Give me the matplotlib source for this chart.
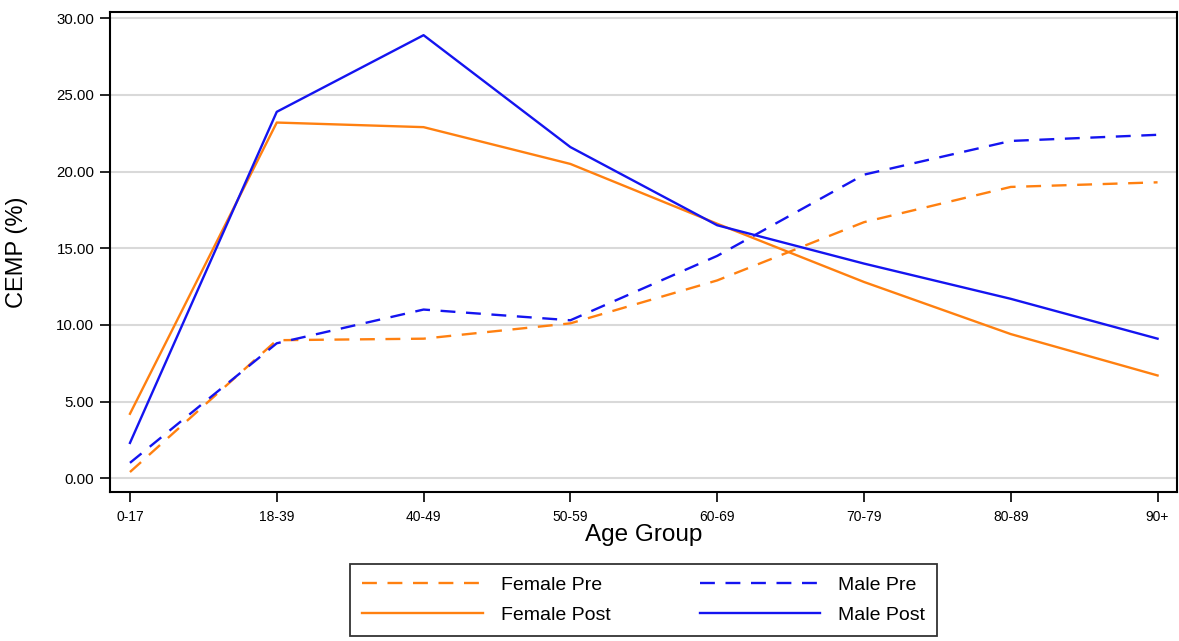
import matplotlib
matplotlib.use("Agg")
import matplotlib.pyplot as plt

plt.rcParams['font.family'] = ['Liberation Sans', 'DejaVu Sans']

age_groups = ["0-17", "18-39", "40-49", "50-59", "60-69", "70-79", "80-89", "90+"]
female_pre = [0.4, 9.0, 9.1, 10.1, 12.9, 16.7, 19.0, 19.3]
male_pre = [1.0, 8.8, 11.0, 10.3, 14.5, 19.8, 22.0, 22.4]
female_post = [4.2, 23.2, 22.9, 20.5, 16.6, 12.8, 9.4, 6.7]
male_post = [2.3, 23.9, 28.9, 21.6, 16.5, 14.0, 11.7, 9.1]
yticks = [0, 5, 10, 15, 20, 25, 30]

orange = "#FF8010"
blue = "#1414F0"

fig = plt.figure(figsize=(11.79, 6.41), dpi=100)
ax = fig.add_axes([0.0933, 0.2325, 0.9047, 0.7485])

x = list(range(len(age_groups)))
dash = (0, (6.3, 4.5))
lw = 1.7
l1, = ax.plot(x, female_pre, color=orange, lw=lw, linestyle=dash, label="Female Pre")
l2, = ax.plot(x, female_post, color=orange, lw=lw, label="Female Post")
l3, = ax.plot(x, male_pre, color=blue, lw=lw, linestyle=dash, label="Male Pre")
l4, = ax.plot(x, male_post, color=blue, lw=lw, label="Male Post")

ax.set_xlim(-0.136, 7.13)
ax.set_ylim(-0.9, 30.4)
ax.set_xticks(x)
ax.set_xticklabels(age_groups, fontsize=10)
ax.set_yticks(yticks)
ax.set_yticklabels([f"{v:.2f}" for v in yticks], fontsize=10.8)
ax.yaxis.grid(True, color="#d9d9d9", lw=1.5)
ax.set_axisbelow(True)
ax.tick_params(axis='both', direction='out', length=7, width=1.2, colors='black')
ax.tick_params(axis='y', pad=4.3)
ax.tick_params(axis='x', pad=6)
for s in ax.spines.values():
    s.set_linewidth(1.5)
    s.set_color('black')

ax.set_xlabel("Age Group", fontsize=17.5)
ax.xaxis.set_label_coords(0.5, -0.066)
ax.set_ylabel("CEMP (%)", fontsize=17)
ax.yaxis.set_label_coords(-0.077, 0.5)

leg = fig.legend([l1, l2, l3, l4], ["Female Pre", "Female Post", "Male Pre", "Male Post"],
                 loc='center', bbox_to_anchor=(0.546, 0.064), ncol=2, fontsize=14,
                 handlelength=6.2, handletextpad=0.93, columnspacing=4.6,
                 frameon=True, fancybox=False, edgecolor='black', borderpad=0.6,
                 labelspacing=0.65, borderaxespad=0)
leg.get_frame().set_linewidth(1.3)

fig.savefig("out.png", dpi=100)
